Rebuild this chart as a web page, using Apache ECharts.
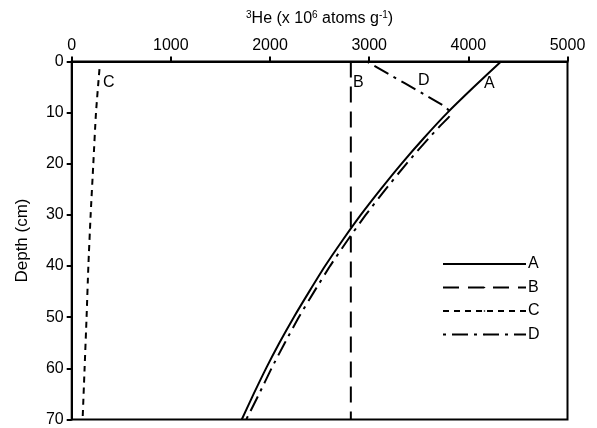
<!DOCTYPE html>
<html><head><meta charset="utf-8">
<script src="https://cdn.jsdelivr.net/npm/echarts@6/dist/echarts.min.js"></script>
<style>html,body{margin:0;padding:0;background:#fff}#c{width:597px;height:428px}</style>
</head><body><div id="c"></div>
<script>
// Depth (cm) and 3He (x10^6 atoms/g) values
const depthA = [0, 5, 10, 15, 20, 25, 30, 35, 40, 45, 50, 55, 60, 65, 70];
const heA    = [4330, 4055, 3790, 3550, 3325, 3115, 2915, 2730, 2555, 2395, 2240, 2095, 1960, 1835, 1715];
const depthB = [0, 70];
const heB    = [2815, 2815];
const depthC = [1.5, 10, 20, 30, 40, 50, 60, 70];
const heC    = [280, 245, 218, 191, 168, 150, 130, 110];
const depthD = [0, 8.5, 9.5, 10.5, 12.3, 15, 20, 25, 30, 35, 40, 45, 50, 55, 60, 65, 70];
const heD    = [2975, 3740, 3800, 3815, 3730, 3600, 3375, 3165, 2965, 2780, 2605, 2445, 2290, 2150, 2015, 1890, 1760];
const xTicks = [0, 1000, 2000, 3000, 4000, 5000];
const yTicks = [0, 10, 20, 30, 40, 50, 60, 70];
const names = ['A', 'B', 'C', 'D'];

const pair = (xs, ys) => xs.map((x, i) => [ys[i], x]);
const F = 'Liberation Sans, Arial, sans-serif';
const chart = echarts.init(document.getElementById('c'), null, {renderer: 'canvas'});
const base = {type: 'line', symbol: 'none', z: 3};
chart.setOption({
  animation: false,
  backgroundColor: '#fff',
  textStyle: {fontFamily: F, color: '#000'},
  grid: {left: 71.7, right: 29.5, top: 61.5, bottom: 8.5, show: true, borderColor: '#000', borderWidth: 2},
  xAxis: {
    type: 'value', position: 'top', min: xTicks[0], max: xTicks[xTicks.length - 1], interval: 1000,
    axisLine: {show: true, lineStyle: {color: '#000', width: 2}},
    axisTick: {show: true, length: 5, lineStyle: {color: '#000', width: 2}},
    axisLabel: {color: '#000', fontSize: 16, fontFamily: F, margin: 8, formatter: v => String(v)},
    splitLine: {show: false},
    name: '{s|3}He (x 10{s|6} atoms g{s|-1})', nameLocation: 'middle', nameGap: 35,
    nameTextStyle: {color: '#000', fontSize: 16, fontFamily: F,
      rich: {s: {fontSize: 10, verticalAlign: 'top', fontFamily: F, color: '#000', padding: [0, 0, 6, 0]}}}
  },
  yAxis: {
    type: 'value', inverse: true, min: yTicks[0], max: yTicks[yTicks.length - 1], interval: 10,
    axisLine: {show: true, lineStyle: {color: '#000', width: 2}},
    axisTick: {show: true, length: 5, lineStyle: {color: '#000', width: 2}},
    axisLabel: {color: '#000', fontSize: 16, fontFamily: F, margin: 8, formatter: v => String(v)},
    splitLine: {show: false},
    name: 'Depth (cm)', nameLocation: 'middle', nameGap: 41, nameRotate: 90,
    nameTextStyle: {color: '#000', fontSize: 17, fontFamily: F}
  },
  legend: {
    show: true, orient: 'vertical', left: 437, top: 251, itemWidth: 83, itemHeight: 2, itemGap: 7.5,
    data: names, textStyle: {fontSize: 16, lineHeight: 16, fontFamily: F, color: '#000', padding: [0, 0, 0, -3]}
  },
  series: [
    Object.assign({}, base, {name: names[0], data: pair(depthA, heA), smooth: 0.2, lineStyle: {color: '#000', width: 2, type: 'solid'}, itemStyle: {color: '#000'}}),
    Object.assign({}, base, {name: names[1], data: pair(depthB, heB), lineStyle: {color: '#000', width: 2, type: [16, 9]}, itemStyle: {color: '#000'}}),
    Object.assign({}, base, {name: names[2], data: pair(depthC, heC), smooth: 0.2, lineStyle: {color: '#000', width: 2, type: [6, 5]}, itemStyle: {color: '#000'}}),
    Object.assign({}, base, {name: names[3], data: pair(depthD, heD), smooth: 0.15, lineStyle: {color: '#000', width: 2, type: [3, 6, 16, 6]}, itemStyle: {color: '#000'}})
  ],
  graphic: [
    {type: 'text', left: 484, top: 76, style: {text: names[0], font: '16px ' + F, fill: '#000'}},
    {type: 'text', left: 353, top: 75, style: {text: names[1], font: '16px ' + F, fill: '#000'}},
    {type: 'text', left: 103, top: 75, style: {text: names[2], font: '16px ' + F, fill: '#000'}},
    {type: 'text', left: 418, top: 73, style: {text: names[3], font: '16px ' + F, fill: '#000'}}
  ]
});
</script></body></html>
